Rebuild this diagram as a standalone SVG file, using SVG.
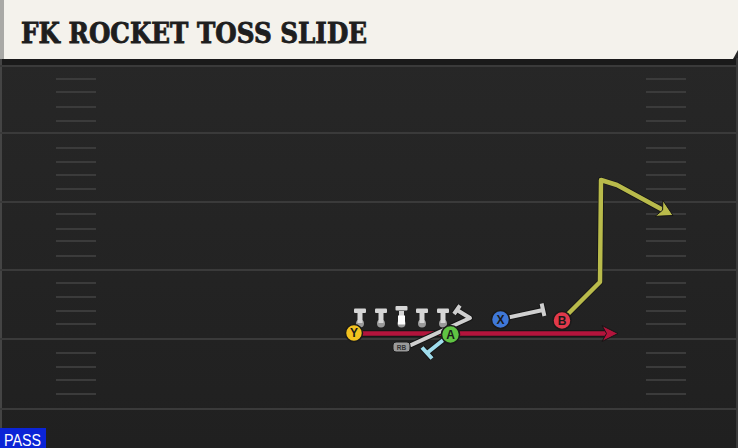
<svg xmlns="http://www.w3.org/2000/svg" width="738" height="448" viewBox="0 0 738 448">
<style>
  .yard{stroke:#3a3a3a;stroke-width:2}
  .hash{stroke:#3b3b3b;stroke-width:2}
  .ol{fill:none;stroke:#151515;stroke-linejoin:round}
  .blk{fill:none;stroke:#cfcfcf;stroke-width:4;stroke-linejoin:round}
  .lbl{font-family:"Liberation Sans","DejaVu Sans",sans-serif;font-weight:bold;font-size:12px;fill:#1a1a1a;text-anchor:middle}
  .ring{stroke:#1a1a1a;stroke-width:1.5}
  .stem{fill:#d6d6d6}
  .foot{fill:#9a9a9a}
  .head{stroke:#151515;stroke-width:1;stroke-linejoin:round}
</style>
<defs>
  <linearGradient id="field" x1="0" y1="0" x2="0" y2="1">
    <stop offset="0" stop-color="#282828"/>
    <stop offset="1" stop-color="#202020"/>
  </linearGradient>
</defs>

<!-- field -->
<rect x="0" y="0" width="738" height="448" fill="url(#field)"/>
<rect x="0" y="58" width="738" height="7" fill="#1a1a1a"/>
<rect x="0" y="58" width="2" height="390" fill="#444"/>
<rect x="736" y="58" width="2" height="390" fill="#3a3a3a"/>

<g id="yardlines">
  <line class="yard" x1="0" y1="66" x2="738" y2="66"/>
  <line class="yard" x1="0" y1="133" x2="738" y2="133"/>
  <line class="yard" x1="0" y1="202" x2="738" y2="202"/>
  <line class="yard" x1="0" y1="270" x2="738" y2="270"/>
  <line class="yard" x1="0" y1="339" x2="738" y2="339"/>
  <line class="yard" x1="0" y1="409" x2="738" y2="409"/>
</g>
<g id="hashes">
  <path class="hash" d="M56 79H96M56 92H96M56 107H96M56 121H96M56 148H96M56 162H96M56 175H96M56 189H96M56 214H96M56 229H96M56 241H96M56 256H96M56 283H96M56 297H96M56 311H96M56 324H96M56 353H96M56 367H96M56 380H96M56 394H96"/>
  <path class="hash" d="M646 79H686M646 92H686M646 107H686M646 121H686M646 148H686M646 162H686M646 175H686M646 189H686M646 214H686M646 229H686M646 241H686M646 256H686M646 283H686M646 297H686M646 311H686M646 324H686M646 353H686M646 367H686M646 380H686M646 394H686"/>
</g>

<!-- header -->
<g id="header">
  <polygon points="0,0 738,0 738,50 733,59 0,59" fill="#f4f2ec"/>
  <rect x="0" y="0" width="4" height="59" fill="#a9a9a6"/>
  <text x="21" y="43" font-family="'DejaVu Serif','Liberation Serif',serif" font-weight="bold" font-size="28" fill="#1e1e1e" stroke="#1e1e1e" stroke-width="0.9" textLength="346" lengthAdjust="spacingAndGlyphs">FK ROCKET TOSS SLIDE</text>
</g>

<!-- connectors -->
<g id="connectors">
  <line class="ol" x1="360" y1="333.5" x2="606" y2="333.5" stroke-width="6.5"/>
  <line x1="360" y1="333.5" x2="608" y2="333.5" stroke="#b3143c" stroke-width="4.5"/>
  <polygon class="head" points="618,333.5 602,325.5 606.5,333.5 602,341.5" fill="#b3143c"/>

  <polyline class="ol" points="567,315 600,282 601,180 617,185 661,209" stroke-width="6"/>
  <polyline points="567,315 600,282 601,180 617,185 663,210" fill="none" stroke="#b9bb4b" stroke-width="4.5" stroke-linejoin="round"/>
  <polygon class="head" points="673,215.5 655.2,216.3 662.6,210.1 662.8,200.2" fill="#b9bb4b"/>

  <path class="ol" d="M508 317.5L543 310M541.6 303.5L544.4 316" stroke-width="6"/>
  <path class="blk" d="M508 317.5L543 310M541.6 303.5L544.4 316"/>

  <path class="ol" d="M410 345.5L470 318L457 310M454 314L460 305.5" stroke-width="6"/>
  <path class="blk" d="M410 345.5L470 318L457 310M454 314L460 305.5"/>

  <path class="ol" d="M447 337L427 353M422 347.5L432 358.5" stroke-width="6"/>
  <path d="M447 337L427 353M422 347.5L432 358.5" fill="none" stroke="#9fdcec" stroke-width="4"/>
</g>

<!-- linemen -->
<g id="LT"><circle class="foot" cx="360" cy="323.5" r="4"/><rect class="stem" x="357.5" y="311" width="5" height="12"/><rect class="stem" x="354" y="308.5" width="12" height="4.5" rx="1"/></g>
<g id="LG"><circle class="foot" cx="381" cy="323.5" r="4"/><rect class="stem" x="378.5" y="311" width="5" height="12"/><rect class="stem" x="375" y="308.5" width="12" height="4.5" rx="1"/></g>
<g id="C"><circle class="foot" cx="401.5" cy="323.5" r="4"/><rect class="stem" x="399" y="311" width="5" height="12"/><rect class="stem" x="395.5" y="306" width="12" height="4.5" rx="1"/><rect x="398" y="315.5" width="7" height="9" fill="#ffffff"/></g>
<g id="RG"><circle class="foot" cx="422" cy="323.5" r="4"/><rect class="stem" x="419.5" y="311" width="5" height="12"/><rect class="stem" x="416" y="308.5" width="12" height="4.5" rx="1"/></g>
<g id="RT"><circle class="foot" cx="443" cy="323.5" r="4"/><rect class="stem" x="440.5" y="311" width="5" height="12"/><rect class="stem" x="437" y="308.5" width="12" height="4.5" rx="1"/></g>

<!-- skill players -->
<g id="RB"><rect x="393" y="342" width="17" height="10" rx="3" fill="#9a9a9a" stroke="#1a1a1a" stroke-width="1"/><text x="401.5" y="350" font-family="'Liberation Sans',sans-serif" font-size="6.5" font-weight="bold" fill="#333" text-anchor="middle">RB</text></g>
<g id="Y"><circle class="ring" cx="354" cy="333" r="8.5" fill="#f2c21f"/><text class="lbl" x="354" y="337.3">Y</text></g>
<g id="A"><circle class="ring" cx="450.5" cy="334.5" r="9" fill="#5fc443"/><text class="lbl" x="450.5" y="338.8">A</text></g>
<g id="X"><circle class="ring" cx="500.5" cy="319.5" r="9" fill="#3f78d8"/><text class="lbl" x="500.5" y="323.8">X</text></g>
<g id="B"><circle class="ring" cx="562" cy="320.5" r="9" fill="#e2394a"/><text class="lbl" x="562" y="324.8">B</text></g>

<!-- play type -->
<g id="pass">
  <rect x="0" y="428" width="46" height="20" fill="#0b24d6"/>
  <text x="4" y="446" font-family="'Liberation Sans','DejaVu Sans',sans-serif" font-size="16" fill="#ffffff" textLength="37" lengthAdjust="spacingAndGlyphs">PASS</text>
</g>
</svg>
